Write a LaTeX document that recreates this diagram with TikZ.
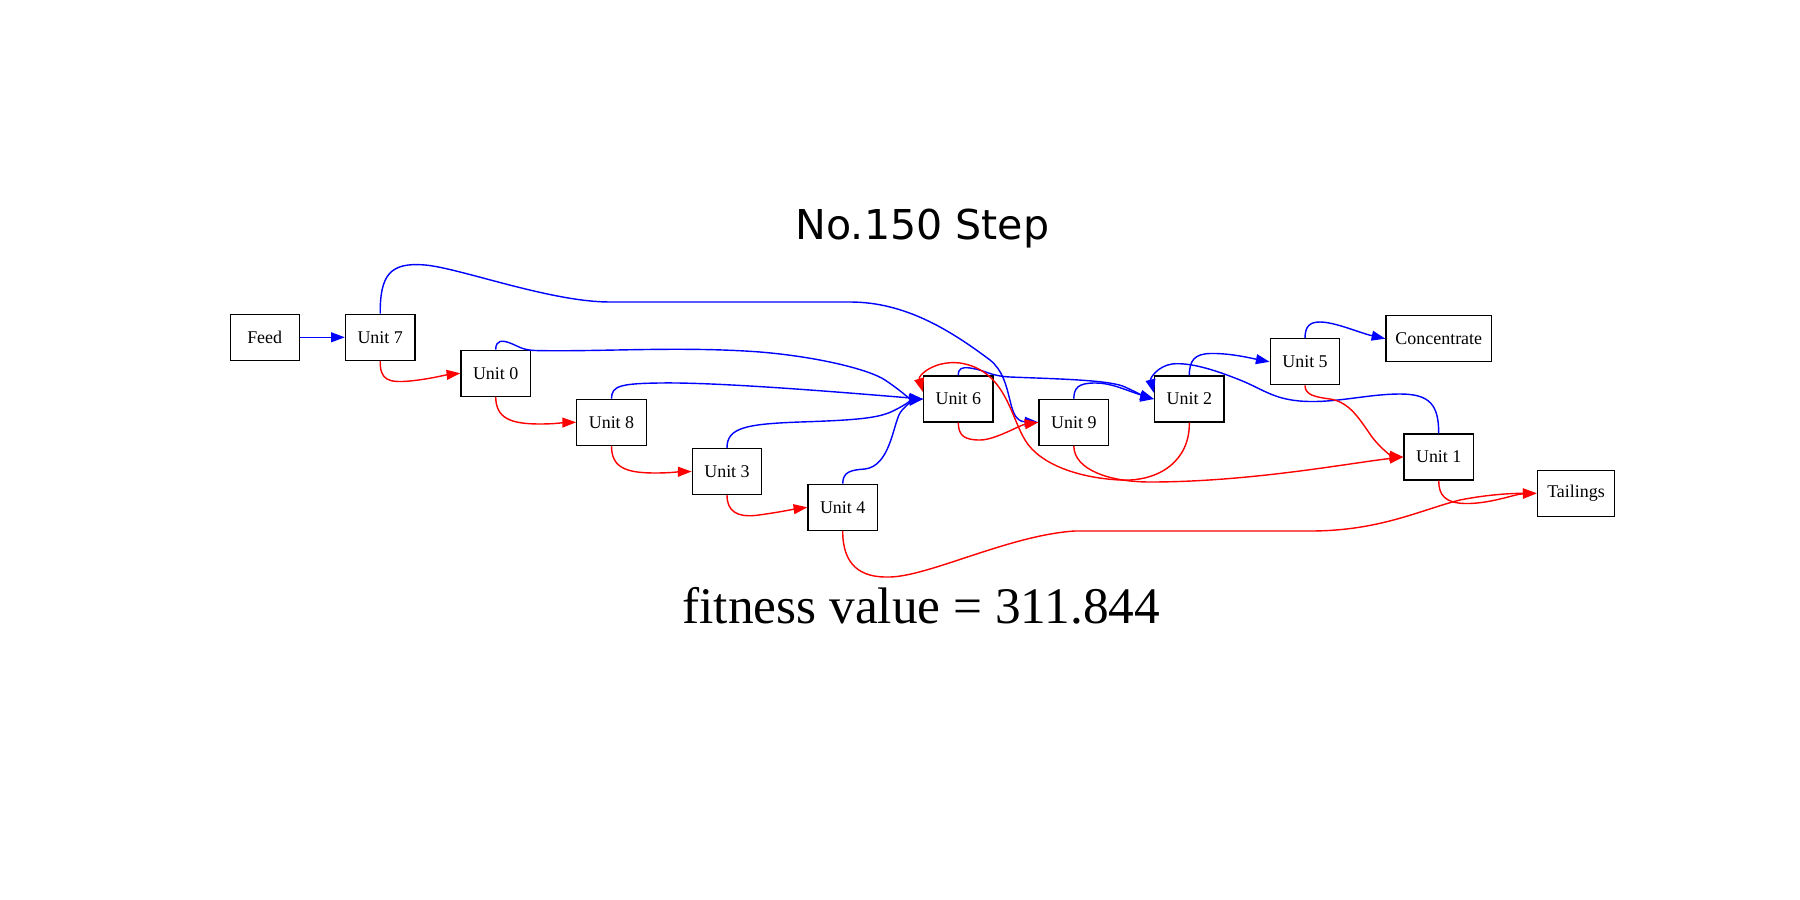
\documentclass[tikz,border=0pt]{standalone}
\usepackage{fontspec}
\setmainfont{Liberation Serif}
\newfontfamily\titlefont{DejaVu Sans}
\usetikzlibrary{arrows.meta}
\begin{document}
\begin{tikzpicture}[x=0.01cm, y=-0.01cm,
  unit/.style={draw, line width=0.35pt, inner sep=0pt, minimum width=0.695cm,
    minimum height=0.46cm, font=\fontsize{5.1}{6}\selectfont},
  flow/.style={line width=0.4pt, -{Triangle[length=3.9pt,width=2.8pt]}},
  conc/.style={flow, blue},
  tail/.style={flow, red}]
\useasboundingbox (0,0) rectangle (1800,900);

% titles
\node[anchor=base, font=\titlefont\fontsize{11.7}{14}\selectfont] (title) at (922.5,239.3) {No.150 Step};
\node[anchor=base, font=\fontsize{14.6}{17}\selectfont] (fit) at (921.4,623.3) {fitness value = 311.844};

% units
\node[unit, minimum width=0.69cm] (feed) at (264.7,337.3) {Feed};
\node[unit] (u7) at (380.2,337.3) {Unit 7};
\node[unit] (u0) at (495.7,373.3) {Unit 0};
\node[unit] (u8) at (611.5,422.3) {Unit 8};
\node[unit] (u3) at (727,471.5) {Unit 3};
\node[unit] (u4) at (842.7,507.3) {Unit 4};
\node[unit] (u6) at (958.3,399) {Unit 6};
\node[unit] (u9) at (1073.8,422.3) {Unit 9};
\node[unit] (u2) at (1189.3,399) {Unit 2};
\node[unit] (u5) at (1305,361.8) {Unit 5};
\node[unit, minimum width=1.057cm] (concentrate) at (1438.8,338.7) {Concentrate};
\node[unit] (u1) at (1438.7,457) {Unit 1};
\node[unit, minimum width=0.774cm] (tailings) at (1576,493.3) {Tailings};

% concentrate streams (blue)
\draw[conc] (feed.east) -- (u7.west);
\draw[conc] (u7.north) .. controls (380,275) and (390,262) .. (425,265)
  .. controls (460,268) and (550,302) .. (610,302) -- (850,302)
  .. controls (905,302) and (950,330) .. (990,360)
  .. controls (1015,380) and (1005,421) .. (u9.west);
\draw[conc] (u0.north) .. controls (495.7,340) and (502,340) .. (510,343)
  .. controls (518,346) and (522,350) .. (535,350.5)
  .. controls (600,352) and (680,346) .. (760,352)
  .. controls (820,357) and (870,370) .. (885,380)
  .. controls (900,390) and (910,399) .. (u6.west);
\draw[conc] (u8.north) .. controls (611.5,386) and (620,383.5) .. (660,383)
  .. controls (720,382) and (850,393) .. (u6.west);
\draw[conc] (u3.north) .. controls (727,428) and (745,424) .. (800,422)
  .. controls (860,420) and (880,418) .. (895,410)
  .. controls (905,405) and (912,400) .. (u6.west);
\draw[conc] (u4.north) .. controls (843,472) and (850,470) .. (865,469)
  .. controls (890,466) and (893,425) .. (900,413)
  .. controls (905,405) and (915,400) .. (u6.west);
\draw[conc] (u6.north) .. controls (958.3,368) and (962,367) .. (970,368)
  .. controls (985,370) and (990,376) .. (1010,377)
  .. controls (1060,379) and (1110,380) .. (1125,387)
  .. controls (1140,394) and (1148,398) .. (u2.west);
\draw[conc] (u9.north) .. controls (1074,388) and (1078,383) .. (1095,383)
  .. controls (1112,383) and (1125,390) .. (u2.west);
\draw[conc] (u1.north) .. controls (1438.7,405) and (1430,394) .. (1400,394)
  .. controls (1370,394) and (1340,402) .. (1310,401.5)
  .. controls (1275,401) and (1265,390) .. (1240,380)
  .. controls (1215,370) and (1190,362) .. (1172,364)
  .. controls (1158,366) and (1150,378) .. ([yshift=0.6mm]u2.west);
\draw[conc] (u2.north) .. controls (1189.3,360) and (1195,354) .. (1210,353.5)
  .. controls (1230,353) and (1250,358) .. (u5.west);
\draw[conc] (u5.north) .. controls (1305,326) and (1310,322) .. (1320,322)
  .. controls (1335,322) and (1360,333) .. (concentrate.west);

% tailings streams (red)
\draw[tail] (u7.south) .. controls (380,380) and (388,383) .. (410,381)
  .. controls (430,379) and (445,375) .. (u0.west);
\draw[tail] (u0.south) .. controls (496,418) and (510,424) .. (540,424)
  .. controls (555,424) and (565,422.5) .. (u8.west);
\draw[tail] (u8.south) .. controls (611.5,467) and (625,473) .. (655,473)
  .. controls (670,473) and (680,471.7) .. (u3.west);
\draw[tail] (u3.south) .. controls (727,512) and (738,517) .. (755,515.5)
  .. controls (775,513) and (795,509) .. (u4.west);
\draw[tail] (u4.south) .. controls (842.7,565) and (860,578) .. (890,577)
  .. controls (930,576) and (1010,535) .. (1075,531) -- (1310,531)
  .. controls (1380,531) and (1420,510) .. (1460,500)
  .. controls (1490,494) and (1515,493.3) .. (tailings.west);
\draw[tail] (u6.south) .. controls (958.3,436) and (965,440) .. (980,440)
  .. controls (995,440) and (1020,425) .. (u9.west);
\draw[tail] (u9.south) .. controls (1074,470) and (1110,482) .. (1150,482)
  .. controls (1250,482) and (1350,463) .. (u1.west);
\draw[tail] (u2.south) .. controls (1190,460) and (1160,482) .. (1120,480)
  .. controls (1080,478) and (1040,465) .. (1025,440)
  .. controls (1010,415) and (1005,370) .. (960,363)
  .. controls (935,360) and (918,375) .. ([yshift=0.7mm]u6.west);
\draw[tail] (u5.south) .. controls (1305,395) and (1315,397) .. (1330,399)
  .. controls (1350,402) and (1360,420) .. (1372,437)
  .. controls (1382,450) and (1392,456) .. (u1.west);
\draw[tail] (u1.south) .. controls (1438.7,495) and (1445,503) .. (1465,503.5)
  .. controls (1490,504) and (1515,494) .. (tailings.west);
\end{tikzpicture}
\end{document}
